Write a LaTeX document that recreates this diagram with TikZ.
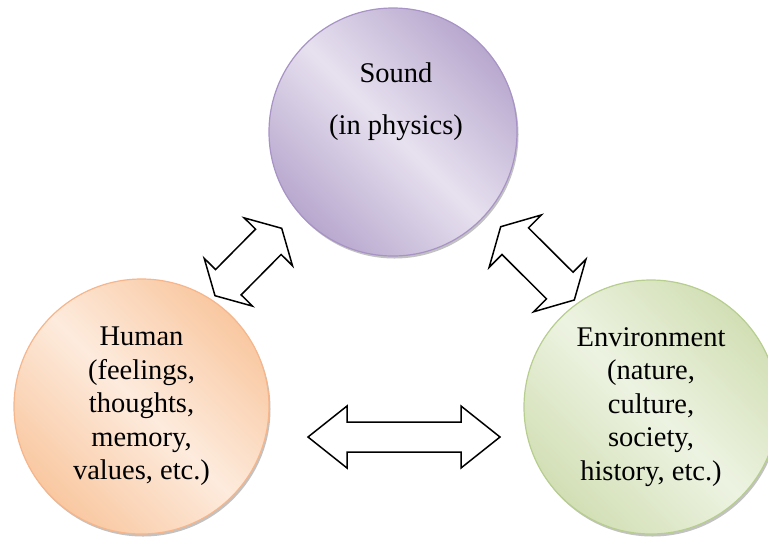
\documentclass[tikz,border=0pt]{standalone}
\usepackage{fontspec}
\setmainfont{Liberation Serif}
\usetikzlibrary{calc,shadows}
\definecolor{purpd}{HTML}{B8A8CE}
\definecolor{purpl}{HTML}{E7E1EF}
\definecolor{purpb}{HTML}{A793C5}
\definecolor{orand}{HTML}{F9C8A1}
\definecolor{orandl}{HTML}{FDEBDD}
\definecolor{orandb}{HTML}{F6B58A}
\definecolor{grnd}{HTML}{D2DFB5}
\definecolor{grnl}{HTML}{EDF3E2}
\definecolor{grnb}{HTML}{B7CE8F}
\tikzset{
  ball/.style n args={3}{circle,draw=#3,line width=1.2pt,inner sep=0pt,
    top color=#1,bottom color=#1,middle color=#2,shading angle=-45,
    drop shadow={shadow xshift=1.5pt,shadow yshift=-2.5pt,fill=black!40,opacity=.6}},
  txt/.style={font=\fontsize{28.5}{33.5}\selectfont,align=center},
  twoarr/.style={draw=black,fill=white,line width=1.5pt,line join=miter}
}
% block arrow between two tips: tip, tip, head length, head half width, shaft half width
\newcommand\twoway[5]{%
  \draw[twoarr] (#1)
    -- ($(#1)!#3!(#2)!#4!90:(#2)$) -- ($(#1)!#3!(#2)!#5!90:(#2)$)
    -- ($(#2)!#3!(#1)!#5!-90:(#1)$) -- ($(#2)!#3!(#1)!#4!-90:(#1)$)
    -- (#2)
    -- ($(#2)!#3!(#1)!#4!90:(#1)$) -- ($(#2)!#3!(#1)!#5!90:(#1)$)
    -- ($(#1)!#3!(#2)!#5!-90:(#2)$) -- ($(#1)!#3!(#2)!#4!-90:(#2)$)
    -- cycle;}

\begin{document}
\begin{tikzpicture}[x=1pt,y=-1pt]
\useasboundingbox (0,0) rectangle (768,539);
% circles
\node[ball={purpd}{purpl}{purpb},minimum size=248pt] (sound) at (393,132) {};
\node[txt] (soundtxt) at (396,102) {Sound\\[18.5pt](in physics)};
\node[ball={orand}{orandl}{orandb},minimum size=255pt,txt] (human) at (141.5,406.5)
  {Human\\(feelings,\\thoughts,\\memory,\\values, etc.)};
\node[ball={grnd}{grnl}{grnb},minimum size=254pt,txt] (envir) at (651,407)
  {Environment\\(nature,\\culture,\\society,\\history, etc.)};
% arrow tips
\coordinate (hsA) at (281.7,228.3);
\coordinate (hsB) at (215,295.7);
\coordinate (seA) at (500.7,226.7);
\coordinate (seB) at (574.3,300);
\coordinate (heA) at (308,437);
\coordinate (heB) at (500,437);
% arrows
\twoway{hsA}{hsB}{19pt}{34pt}{18pt}
\twoway{seA}{seB}{20.5pt}{37pt}{18.8pt}
\twoway{heA}{heB}{39pt}{31pt}{15pt}
\end{tikzpicture}
\end{document}
